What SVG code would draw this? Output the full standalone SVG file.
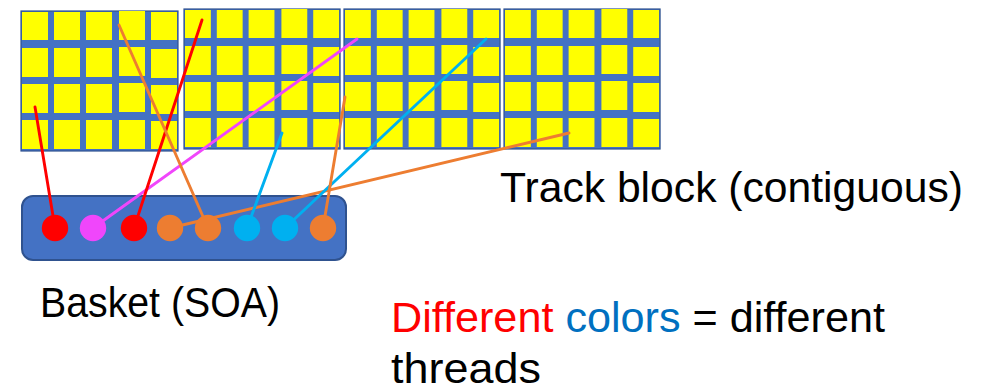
<svg xmlns="http://www.w3.org/2000/svg" xmlns:xlink="http://www.w3.org/1999/xlink" width="994" height="392" viewBox="0 0 994 392">
  <style>
    .frame { fill: #4472C4; stroke: #2F528F; stroke-width: 1.2; }
    .cell { fill: #FFFF00; }
    .basket { fill: #4472C4; stroke: #2F528F; stroke-width: 2; }
    .wire { fill: none; stroke-width: 2.9; stroke-linecap: round; }
    .red { stroke: #FF0000; }
    .mag { stroke: #F046FB; }
    .org { stroke: #ED7D31; }
    .cyn { stroke: #00B0F0; }
    .label { font-family: "Liberation Sans", Arial, sans-serif; font-size: 42px; fill: #000000; }
  </style>
  <defs>
    <!-- one track block: blue frame with a 5 x 4 grid of yellow cells -->
    <g id="block">
      <rect class="frame" x="0" y="0" width="157" height="140"/>
      <rect class="cell" x="1" y="1" width="26" height="28"/>
      <rect class="cell" x="33" y="1" width="26" height="28"/>
      <rect class="cell" x="65" y="1" width="26" height="28"/>
      <rect class="cell" x="98" y="0" width="26" height="29"/>
      <rect class="cell" x="130" y="1" width="26" height="28"/>
      <rect class="cell" x="1" y="37" width="26" height="29"/>
      <rect class="cell" x="33" y="37" width="26" height="29"/>
      <rect class="cell" x="65" y="37" width="26" height="29"/>
      <rect class="cell" x="98" y="36" width="26" height="29"/>
      <rect class="cell" x="130" y="38" width="26" height="29"/>
      <rect class="cell" x="1" y="73" width="26" height="29"/>
      <rect class="cell" x="33" y="73" width="26" height="29"/>
      <rect class="cell" x="65" y="73" width="26" height="29"/>
      <rect class="cell" x="98" y="72" width="26" height="29"/>
      <rect class="cell" x="130" y="74" width="26" height="29"/>
      <rect class="cell" x="1" y="109" width="26" height="29"/>
      <rect class="cell" x="33" y="109" width="26" height="29"/>
      <rect class="cell" x="65" y="109" width="26" height="29"/>
      <rect class="cell" x="98" y="109" width="26" height="29"/>
      <rect class="cell" x="130" y="110" width="26" height="28"/>
    </g>
  </defs>

  <!-- track blocks -->
  <g id="block1"><use xlink:href="#block" transform="translate(21,11)"/></g>
  <g id="block2"><use xlink:href="#block" transform="translate(184,9) scale(0.994,1)"/></g>
  <g id="block3"><use xlink:href="#block" transform="translate(344,9) scale(0.994,1)"/></g>
  <g id="block4"><use xlink:href="#block" transform="translate(504,9) scale(0.994,1)"/></g>

  <!-- basket container -->
  <g id="basket">
    <rect class="basket" x="22" y="196" width="324" height="64" rx="11" ry="11"/>
  </g>

  <!-- connectors from basket slots to tracks -->
  <g id="connectors">
    <line class="wire red" x1="55" y1="228" x2="35" y2="107"/>
    <line class="wire mag" x1="93" y1="228" x2="357" y2="39"/>
    <line class="wire red" x1="134" y1="228" x2="202" y2="20"/>
    <line class="wire org" x1="208" y1="228" x2="119" y2="25"/>
    <line class="wire org" x1="170" y1="228" x2="569" y2="133"/>
    <line class="wire cyn" x1="247" y1="228" x2="282" y2="133"/>
    <line class="wire cyn" x1="285" y1="228" x2="486" y2="39"/>
    <line class="wire org" x1="323" y1="228" x2="345" y2="97"/>
  </g>

  <!-- basket slots -->
  <g id="slot1"><circle cx="55" cy="228" r="13.2" fill="#FF0000"/></g>
  <g id="slot2"><circle cx="93" cy="228" r="13.2" fill="#F046FB"/></g>
  <g id="slot3"><circle cx="134" cy="228" r="13.2" fill="#FF0000"/></g>
  <g id="slot4"><circle cx="170" cy="228" r="13.2" fill="#ED7D31"/></g>
  <g id="slot5"><circle cx="208" cy="228" r="13.2" fill="#ED7D31"/></g>
  <g id="slot6"><circle cx="247" cy="228" r="13.2" fill="#00B0F0"/></g>
  <g id="slot7"><circle cx="285" cy="228" r="13.2" fill="#00B0F0"/></g>
  <g id="slot8"><circle cx="323" cy="228" r="13.2" fill="#ED7D31"/></g>

  <!-- labels -->
  <text class="label" x="500" y="202" textLength="463" lengthAdjust="spacingAndGlyphs">Track block (contiguous)</text>
  <text class="label" x="40" y="317" font-size="44" textLength="240" lengthAdjust="spacingAndGlyphs">Basket (SOA)</text>
  <text class="label" x="391" y="332" textLength="494" lengthAdjust="spacingAndGlyphs"><tspan fill="#FF0000">Different</tspan> <tspan fill="#0070C0">colors</tspan> = different</text>
  <text class="label" x="391" y="383" textLength="150" lengthAdjust="spacingAndGlyphs">threads</text>
</svg>
